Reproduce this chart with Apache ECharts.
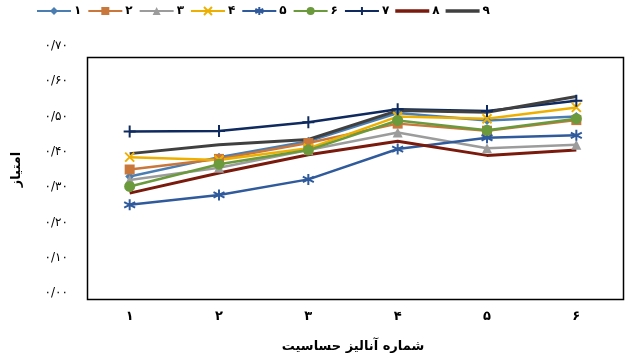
<!DOCTYPE html>
<html>
<head>
<meta charset="utf-8">
<script src="https://cdn.jsdelivr.net/npm/echarts@6/dist/echarts.min.js"></script>
<style>
  html, body { margin: 0; padding: 0; background: #fff; }
  #main { width: 625px; height: 358px; }
</style>
</head>
<body>
<div id="main"></div>
<script>
// 类目 / 刻度
const categories = ["۱", "۲", "۳", "۴", "۵", "۶"];
const yTickLabels = ["۰/۰۰", "۰/۱۰", "۰/۲۰", "۰/۳۰", "۰/۴۰", "۰/۵۰", "۰/۶۰", "۰/۷۰"];
const seriesNames = ["۱", "۲", "۳", "۴", "۵", "۶", "۷", "۸", "۹"];

// 各系列数值
const s1 = [0.33, 0.385, 0.43, 0.51, 0.489, 0.50];
const s2 = [0.35, 0.38, 0.425, 0.48, 0.46, 0.49];
const s3 = [0.32, 0.355, 0.405, 0.455, 0.41, 0.42];
const s4 = [0.385, 0.377, 0.41, 0.50, 0.494, 0.526];
const s5 = [0.25, 0.278, 0.322, 0.408, 0.44, 0.447];
const s6 = [0.302, 0.365, 0.405, 0.489, 0.461, 0.494];
const s7 = [0.458, 0.459, 0.484, 0.521, 0.516, 0.545];
const s8 = [0.283, 0.34, 0.392, 0.43, 0.39, 0.405];
const s9 = [0.395, 0.42, 0.435, 0.517, 0.512, 0.557];

const allData = [s1, s2, s3, s4, s5, s6, s7, s8, s9];
const colors = ["#4a7eb2", "#c9773a", "#9c9c9c", "#eeb000", "#2f5a9c", "#6a9a3c", "#0f2a5e", "#7a1a0c", "#404040"];
const symbols = [
  "diamond",
  "rect",
  "triangle",
  "path://M0,0L10,10M10,0L0,10", // x
  "path://M5,0L5,10M0,2.5L10,7.5M0,7.5L10,2.5", // 星号
  "circle",
  "path://M5,0L5,10M0,5L10,5", // 加号
  "none", // 8、9 的短横标记几乎看不见
  "none",
];
const symbolSizes = [9, 10, 10, 9, 11, 11, 12, 0, 0];

const font = "DejaVu Sans";

const series = allData.map((data, i) => ({
  name: seriesNames[i],
  type: "line",
  data: data,
  symbol: symbols[i],
  symbolSize: symbolSizes[i],
  showAllSymbol: true,
  lineStyle: { width: i >= 7 ? 3 : 2.5, color: colors[i] },
  itemStyle: { color: colors[i], borderColor: colors[i], borderWidth: i === 3 || i === 4 || i === 6 ? 2 : 0 },
  emphasis: { disabled: true },
}));

// 图例：8、9 只画一条粗线
const legendData = seriesNames.map((name, i) =>
  i >= 7 ? { name: name, icon: "path://M0,0L34,0L34,3.5L0,3.5Z" } : { name: name }
);

const chart = echarts.init(document.getElementById("main"));

chart.setOption({
  animation: false,
  textStyle: { fontFamily: font },
  legend: {
    top: 0,
    left: 31,
    itemWidth: 34,
    itemHeight: 10,
    itemGap: 6,
    data: legendData,
    textStyle: { fontFamily: font, fontSize: 12, color: "#000", fontWeight: "bold", padding: [0, 0, 0, -2] },
  },
  grid: {
    left: 85,
    right: 4,
    top: 46,
    bottom: 61,
  },
  // 绘图区边框
  graphic: [
    {
      type: "rect",
      left: 85,
      top: 55,
      shape: { width: 536, height: 242 },
      style: { fill: "none", stroke: "#000", lineWidth: 1.5 },
      silent: true,
    },
  ],
  xAxis: {
    type: "category",
    data: categories,
    boundaryGap: true,
    axisLine: { show: false },
    axisTick: { show: false },
    axisLabel: { color: "#000", fontSize: 13, fontWeight: "bold", margin: 17, fontFamily: font },
    name: "شماره آنالیز حساسیت",
    nameLocation: "middle",
    nameGap: 47,
    nameTextStyle: { color: "#000", fontSize: 13, fontWeight: "bold", fontFamily: font },
  },
  yAxis: {
    type: "value",
    min: 0,
    max: 0.7,
    interval: 0.1,
    axisLine: { show: false },
    axisTick: { show: false },
    splitLine: { show: false },
    axisLabel: {
      color: "#000",
      fontSize: 12,
      margin: 17,
      fontFamily: font,
      formatter: (v) => yTickLabels[Math.round(v * 10)],
    },
    name: "امتیاز",
    nameLocation: "middle",
    nameGap: 62,
    nameRotate: 90,
    nameTextStyle: { color: "#000", fontSize: 13, fontWeight: "bold", fontFamily: font },
  },
  series: series,
});
</script>
</body>
</html>
